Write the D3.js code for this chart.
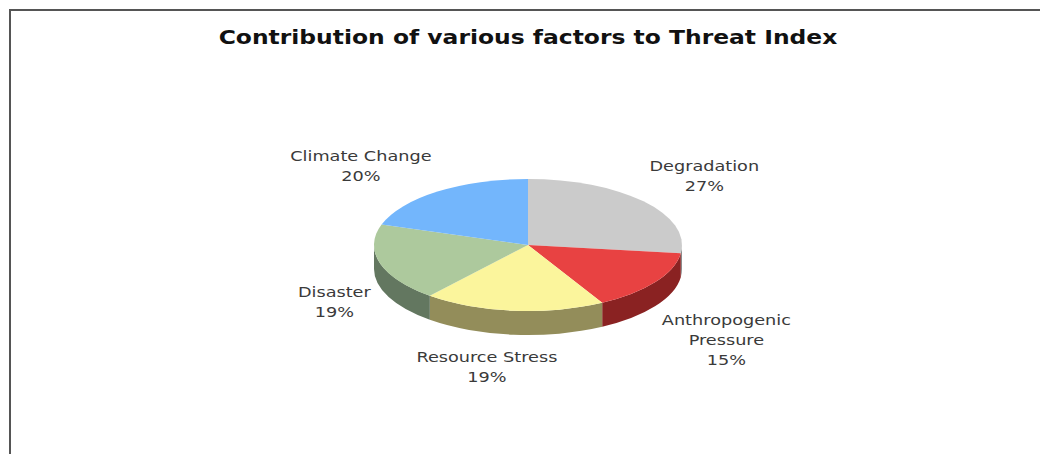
<!DOCTYPE html>
<html>
<head>
<meta charset="utf-8">
<script src="https://cdn.jsdelivr.net/npm/d3@7"></script>
<style>
  html, body { margin: 0; padding: 0; background: #fff; }
  svg { display: block; }
</style>
</head>
<body>
<svg id="chart" width="1040" height="454"></svg>
<script>
// ---- data ----
const title = "Contribution of various factors to Threat Index";
const categories = ["Degradation", "Anthropogenic Pressure", "Resource Stress", "Disaster", "Climate Change"];
const values = [27, 15, 19, 19, 20];
const labelLines = [["Degradation"], ["Anthropogenic", "Pressure"], ["Resource Stress"], ["Disaster"], ["Climate Change"]];

// ---- style / layout ----
const topColors = ["#cbcbcb", "#e84242", "#fbf59c", "#adc99d", "#73b6fc"];
const sideColors = ["#8c8c8c", "#8a2222", "#938d5a", "#637760", "#4a78a8"];
const W = 1040, H = 454;
const cx = 528, cy = 245, rx = 154, ry = 66, depth = 24;
const Lrx = 235, Lry = 105, lineH = 20;
const nudges = [[0, 0], [4, 12], [-19, -6.5], [32, 4], [-29, 6]];
const textScaleX = 1.22;

const svg = d3.select("#chart");

// frame
svg.append("line").attr("x1", 9).attr("y1", 10).attr("x2", W).attr("y2", 10)
  .attr("stroke", "#555").attr("stroke-width", 2);
svg.append("line").attr("x1", 10).attr("y1", 9).attr("x2", 10).attr("y2", H)
  .attr("stroke", "#555").attr("stroke-width", 2);

// title
svg.append("text")
  .attr("transform", `translate(528,44) scale(${textScaleX},1)`)
  .attr("text-anchor", "middle")
  .attr("font-family", "DejaVu Sans, Verdana, sans-serif")
  .attr("font-weight", "bold")
  .attr("font-size", 19.2)
  .attr("fill", "#111")
  .text(title);

const arcs = d3.pie().sort(null).value(d => d)(values);
const pt = (a, dy = 0) => [cx + rx * Math.sin(a), cy - ry * Math.cos(a) + dy];
const fmt = p => p[0].toFixed(2) + "," + p[1].toFixed(2);

const g = svg.append("g");

// sides (front half only: angles between PI/2 and 3PI/2)
g.selectAll("path.side").data(arcs).enter().append("path")
  .attr("class", "side")
  .attr("d", d => {
    const s = Math.max(d.startAngle, Math.PI / 2), e = Math.min(d.endAngle, 3 * Math.PI / 2);
    if (s >= e) return null;
    const large = (e - s) > Math.PI ? 1 : 0;
    return `M${fmt(pt(s))}A${rx},${ry} 0 ${large} 1 ${fmt(pt(e))}L${fmt(pt(e, depth))}A${rx},${ry} 0 ${large} 0 ${fmt(pt(s, depth))}Z`;
  })
  .attr("fill", (d, i) => sideColors[i]);

// tops
g.selectAll("path.top").data(arcs).enter().append("path")
  .attr("class", "top")
  .attr("d", d => {
    const large = (d.endAngle - d.startAngle) > Math.PI ? 1 : 0;
    return `M${cx},${cy}L${fmt(pt(d.startAngle))}A${rx},${ry} 0 ${large} 1 ${fmt(pt(d.endAngle))}Z`;
  })
  .attr("fill", (d, i) => topColors[i]);

// labels
const lab = svg.selectAll("g.lab").data(arcs).enter().append("g").attr("class", "lab")
  .attr("transform", (d, i) => {
    const m = (d.startAngle + d.endAngle) / 2;
    const n = labelLines[i].length + 1;
    const x = cx + Lrx * Math.sin(m) + nudges[i][0];
    const y = cy - Lry * Math.cos(m) + (Math.cos(m) < 0 ? depth : 0) - (n - 1) * lineH / 2 + 5 + nudges[i][1];
    return `translate(${x},${y}) scale(${textScaleX},1)`;
  });
lab.append("text")
  .attr("text-anchor", "middle")
  .attr("font-family", "DejaVu Sans, Verdana, sans-serif")
  .attr("font-size", 14.5)
  .attr("fill", "#3a3a3a")
  .selectAll("tspan")
  .data((d, i) => labelLines[i].concat([d3.format(".0f")(d.data / d3.sum(values) * 100) + "%"]))
  .enter().append("tspan")
  .attr("x", 0)
  .attr("dy", (d, j) => j === 0 ? 0 : lineH)
  .text(d => d);
</script>
</body>
</html>
